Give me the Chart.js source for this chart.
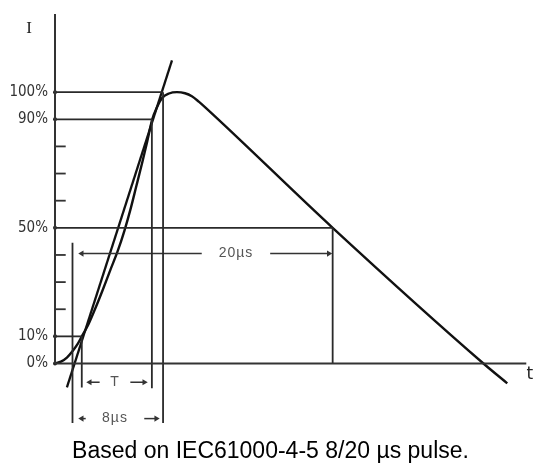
<!DOCTYPE html>
<html>
<head>
<meta charset="utf-8">
<script src="https://cdn.jsdelivr.net/npm/chart.js@4"></script>
<style>
  html, body { margin: 0; padding: 0; background: #fff; }
</style>
</head>
<body>
<canvas id="pulseChart" width="541" height="472"></canvas>
<script>
// time in drawing units (figure is schematic, not to scale), current in %
var yTicks = [0, 10, 50, 90, 100];
var minorTicks = [20, 30, 40, 60, 70, 80];

// the 8/20 current wave
var pulseT = [0, 0.5, 1.0, 1.5, 1.92, 2.25, 2.75, 3.33, 4.0, 4.67, 5.25, 5.83, 6.33, 6.83, 7.33, 7.75, 8.17, 8.58, 9.0, 9.58, 10.25, 10.92, 11.5, 12.08, 12.67, 23.33, 36.0, 38.0];
var pulseI = [0, 0.7, 2.2, 4.7, 7.3, 10, 13.9, 19.7, 27.0, 34.7, 41.2, 48.9, 56.6, 65.3, 74.1, 81.8, 90, 94.5, 97.8, 99.5, 100, 99.6, 98.5, 96.5, 94.2, 50, 0, -7.3];

// straight line through the 10% and 90% points
var frontT = [1.0, 9.83];
var frontI = [-8.8, 111.7];

// horizontal level lines
var levelI = [100, 90, 50, 10];
var levelEndT = [9.08, 8.14, 23.33, 2.25];

// vertical drop lines (O1, 10%, 90%, 100%, 50%)
var dropT = [1.47, 2.25, 8.14, 9.08, 23.33];
var dropTopI = [44.5, 10, 90, 100, 50];
var dropBottomI = [-21.9, -8.8, -9.1, -21.9, 0];

// dimension arrows
var dimLabels = ['20\u00b5s', 'T', '8\u00b5s'];
var dimI = [40.5, -6.9, -20.3];
var dimFrom = [2.0, 2.67, 2.0];
var dimTo = [23.25, 7.75, 8.75];
var dimGapFrom = [12.33, 3.75, 2.58];
var dimGapTo = [18.08, 6.33, 7.5];

var axisTopI = 128.8;
var axisEndT = 39.6;

function pts(ts, is) {
  return ts.map(function (t, k) { return { x: t, y: is[k] }; });
}

function lineSet(data, color, width, extra) {
  var ds = {
    data: data,
    showLine: true,
    borderColor: color,
    backgroundColor: color,
    borderWidth: width,
    pointRadius: 0,
    fill: false,
    clip: false
  };
  for (var k in extra) ds[k] = extra[k];
  return ds;
}

var datasets = [];

// axes
datasets.push(lineSet(pts([0, 0], [0, axisTopI]), '#333', 2));
datasets.push(lineSet(pts([0, axisEndT], [0, 0]), '#333', 2));

// minor ticks on the I axis
minorTicks.forEach(function (v) {
  datasets.push(lineSet(pts([0, 0.9], [v, v]), '#333', 1.8));
});

// level lines
levelI.forEach(function (v, k) {
  datasets.push(lineSet(pts([0, levelEndT[k]], [v, v]), '#2a2a2a', 1.8));
});

// drop lines
dropT.forEach(function (t, k) {
  datasets.push(lineSet(pts([t, t], [dropTopI[k], dropBottomI[k]]), '#2a2a2a', 1.8));
});

// dots on the axis at the labelled levels
datasets.push({
  data: pts(yTicks.map(function () { return 0; }), yTicks),
  showLine: false,
  pointRadius: 2,
  pointBackgroundColor: '#222',
  pointBorderWidth: 0,
  clip: false
});

// dimension arrows, split around their labels
dimI.forEach(function (v, k) {
  datasets.push(lineSet(pts([dimFrom[k] + 0.25, dimGapFrom[k]], [v, v]), '#333', 1.5, {
    pointStyle: 'triangle', pointRadius: [3.5, 0], pointRotation: [-90, 0],
    pointBackgroundColor: '#333', pointBorderWidth: 0
  }));
  datasets.push(lineSet(pts([dimGapTo[k], dimTo[k] - 0.25], [v, v]), '#333', 1.5, {
    pointStyle: 'triangle', pointRadius: [0, 3.5], pointRotation: [0, 90],
    pointBackgroundColor: '#333', pointBorderWidth: 0
  }));
});

// front line and the pulse itself
datasets.push(lineSet(pts(frontT, frontI), '#111', 2.3));
datasets.push(lineSet(pts(pulseT, pulseI), '#111', 2.4, { cubicInterpolationMode: 'monotone' }));

var figureText = {
  id: 'figureText',
  afterDatasetsDraw: function (chart) {
    var ctx = chart.ctx, xs = chart.scales.x, ys = chart.scales.y;
    ctx.save();
    ctx.textAlign = 'center';
    ctx.textBaseline = 'middle';
    ctx.fillStyle = '#555';
    ctx.font = '14px "Liberation Sans Narrow", "Liberation Sans", sans-serif';
    ctx.letterSpacing = '1px';
    dimLabels.forEach(function (txt, k) {
      var mid = (dimGapFrom[k] + dimGapTo[k]) / 2;
      ctx.fillText(txt, xs.getPixelForValue(mid), ys.getPixelForValue(dimI[k]));
    });
    ctx.letterSpacing = '0px';
    ctx.fillStyle = '#222';
    ctx.font = '17px "Liberation Serif", serif';
    ctx.fillText('I', xs.getPixelForValue(-2.17), ys.getPixelForValue(123.4));
    ctx.font = '17px "DejaVu Sans", sans-serif';
    ctx.fillText('t', xs.getPixelForValue(39.9), ys.getPixelForValue(-4.0));
    ctx.restore();
  }
};

new Chart(document.getElementById('pulseChart'), {
  type: 'scatter',
  data: { datasets: datasets },
  options: {
    responsive: false,
    animation: false,
    layout: { padding: 0 },
    plugins: {
      legend: { display: false },
      tooltip: { enabled: false },
      title: {
        display: true,
        position: 'bottom',
        text: 'Based on IEC61000-4-5 8/20 \u00b5s pulse.',
        color: '#000',
        font: { family: '"Liberation Sans", Arial, sans-serif', size: 23, weight: 'normal' },
        padding: { top: 0, bottom: 7 }
      }
    },
    scales: {
      x: { type: 'linear', display: false, min: 0, max: 40.5 },
      y: {
        type: 'linear',
        position: 'left',
        min: -27.23,
        max: 132.48,
        afterFit: function (s) { s.width = 55; s.paddingTop = 0; s.paddingBottom = 0; },
        afterBuildTicks: function (s) { s.ticks = yTicks.map(function (v) { return { value: v }; }); },
        grid: { display: false, drawTicks: false },
        border: { display: false },
        ticks: {
          padding: 7,
          color: '#333',
          font: { family: '"DejaVu Sans Condensed", "Liberation Sans Narrow", sans-serif', size: 15 },
          callback: function (v) { return v + '%'; }
        }
      }
    }
  },
  plugins: [figureText]
});
</script>
</body>
</html>
